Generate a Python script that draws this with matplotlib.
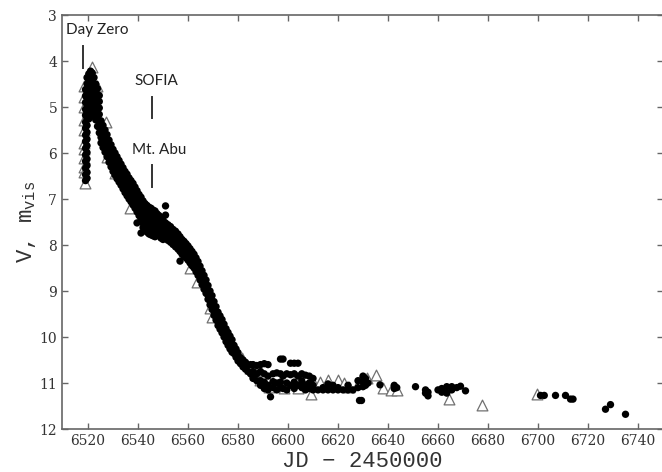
import matplotlib
matplotlib.use("Agg")
import matplotlib.pyplot as plt
import numpy as np

# V-band (filled circles) nightly estimates, JD - 2450000 and magnitudes
rise_jd = [6519.0, 6519.6]
rise_mag = [
    [4.62, 4.76, 4.9, 5.05, 5.18, 5.33, 5.46, 5.61, 5.75, 5.9, 6.04, 6.18, 6.33, 6.47, 6.6],
    [4.36, 4.5, 4.66, 4.8, 4.95, 5.1, 5.24, 5.4, 5.55, 5.7, 5.84, 5.99, 6.13, 6.27, 6.42, 6.55],
]

peak_jd = [6520.3, 6521.0, 6521.7, 6522.4, 6523.1, 6523.8, 6524.5]
peak_mag = [
    [4.28, 4.42, 4.56, 4.7, 4.84, 4.98, 5.12, 5.26],
    [4.22, 4.36, 4.5, 4.64, 4.78, 4.92, 5.06, 5.2],
    [4.26, 4.4, 4.54, 4.68, 4.82, 4.96, 5.1, 5.2],
    [4.36, 4.5, 4.64, 4.78, 4.92, 5.06, 5.18],
    [4.5, 4.64, 4.78, 4.92, 5.04, 5.16, 5.28],
    [4.6, 4.74, 4.88, 5.0, 5.14, 5.28, 5.42],
    [4.75, 4.88, 5.02, 5.16, 5.3, 5.44, 5.56],
]

decline_jd = [6525.2, 6526.0, 6526.8, 6527.6, 6528.4, 6529.2, 6530.0, 6530.8,
              6531.6, 6532.4, 6533.2, 6534.0, 6534.8, 6535.6, 6536.4, 6537.2,
              6538.0, 6538.8, 6539.6, 6540.4, 6541.2, 6542.0, 6542.8, 6543.6,
              6544.4, 6545.2, 6546.0, 6546.8, 6547.6, 6548.4, 6549.2, 6550.0,
              6551.0, 6552.0, 6553.0, 6554.0, 6555.0, 6556.0, 6556.8]
decline_mag = [
    [5.3, 5.42, 5.54, 5.66, 5.78], [5.4, 5.52, 5.64, 5.76, 5.88], [5.5, 5.62, 5.74, 5.86, 5.98],
    [5.6, 5.72, 5.84, 5.96, 6.08], [5.72, 5.84, 5.96, 6.08, 6.2], [5.82, 5.94, 6.06, 6.18, 6.3],
    [5.92, 6.04, 6.16, 6.28, 6.4], [6.0, 6.12, 6.24, 6.36, 6.48], [6.08, 6.2, 6.32, 6.44, 6.56],
    [6.16, 6.28, 6.4, 6.52, 6.63], [6.24, 6.36, 6.48, 6.6, 6.7], [6.32, 6.44, 6.56, 6.68, 6.78],
    [6.4, 6.52, 6.63, 6.74, 6.86], [6.46, 6.58, 6.7, 6.82, 6.93], [6.54, 6.66, 6.78, 6.89, 7.0],
    [6.6, 6.72, 6.84, 6.95, 7.06], [6.66, 6.78, 6.9, 7.02, 7.13], [6.74, 6.86, 6.98, 7.09, 7.2],
    [6.82, 6.94, 7.06, 7.17, 7.28, 7.52], [6.9, 7.02, 7.14, 7.25, 7.36],
    [6.96, 7.08, 7.2, 7.32, 7.44, 7.74], [7.04, 7.16, 7.28, 7.4, 7.52, 7.62],
    [7.1, 7.22, 7.34, 7.46, 7.58, 7.68], [7.14, 7.26, 7.38, 7.5, 7.62, 7.72],
    [7.18, 7.3, 7.42, 7.54, 7.66, 7.76], [7.2, 7.32, 7.44, 7.56, 7.68, 7.78],
    [7.24, 7.36, 7.48, 7.6, 7.72, 7.8], [7.26, 7.38, 7.5, 7.62, 7.74, 7.82],
    [7.32, 7.44, 7.56, 7.68, 7.78], [7.36, 7.48, 7.6, 7.7, 7.8],
    [7.42, 7.54, 7.65, 7.76, 7.85], [7.46, 7.58, 7.69, 7.8, 7.88],
    [7.15, 7.35, 7.52, 7.63, 7.74, 7.85], [7.56, 7.67, 7.78, 7.9],
    [7.6, 7.72, 7.83, 7.94], [7.66, 7.77, 7.88, 7.99], [7.7, 7.82, 7.93, 8.04],
    [7.76, 7.87, 7.98, 8.09], [7.82, 7.93, 8.04, 8.14, 8.35],
]

fade_jd = [6557.6, 6558.4, 6559.2, 6560.0, 6560.8, 6561.6, 6562.4, 6563.2,
           6564.0, 6564.8, 6565.6, 6566.4, 6567.2, 6568.0, 6568.8, 6569.6,
           6570.4, 6571.2, 6572.0, 6572.8, 6573.6, 6574.4, 6575.2, 6576.0,
           6576.8, 6577.6, 6578.4, 6579.2, 6580.0]
fade_mag = [
    [7.88, 7.99, 8.1, 8.2], [7.92, 8.03, 8.14, 8.24], [7.97, 8.08, 8.18, 8.28],
    [8.02, 8.13, 8.23, 8.33], [8.08, 8.19, 8.29, 8.39], [8.14, 8.25, 8.35, 8.45],
    [8.2, 8.31, 8.41, 8.5], [8.28, 8.39, 8.49, 8.58], [8.36, 8.47, 8.57, 8.66],
    [8.46, 8.57, 8.67, 8.76], [8.56, 8.67, 8.77, 8.86], [8.66, 8.77, 8.87, 8.96],
    [8.76, 8.87, 8.97, 9.05], [8.88, 8.99, 9.09, 9.18], [9.0, 9.11, 9.21, 9.3],
    [9.1, 9.21, 9.31, 9.4], [9.23, 9.34, 9.44, 9.53], [9.34, 9.45, 9.55, 9.63],
    [9.46, 9.57, 9.67, 9.75], [9.54, 9.65, 9.75, 9.83], [9.62, 9.73, 9.83, 9.91],
    [9.72, 9.83, 9.92, 10.0], [9.82, 9.92, 10.02, 10.1], [9.9, 10.0, 10.1, 10.18],
    [9.98, 10.08, 10.18, 10.26], [10.06, 10.16, 10.26, 10.33], [10.18, 10.28, 10.36],
    [10.26, 10.36, 10.44], [10.34, 10.44, 10.52],
]

tail_jd = [6581.0, 6582.0, 6583.0, 6584.0, 6585.0, 6586.0, 6587.5, 6589.0,
           6590.5, 6592.0, 6593.0, 6594.0, 6595.5, 6597.0, 6598.0, 6599.5,
           6601.0, 6602.5, 6604.0, 6605.5, 6607.0, 6608.5, 6610.0, 6612.0,
           6614.0, 6616.0, 6618.0, 6620.0, 6622.0, 6624.0, 6626.0, 6628.0,
           6628.6, 6629.4, 6630.0, 6631.0, 6632.0, 6636.8, 6642.5, 6643.5,
           6651.0, 6655.0, 6656.0, 6660.0, 6661.5, 6663.5, 6665.5, 6667.5,
           6669.0, 6671.0, 6701.0, 6702.5, 6707.0, 6711.0, 6713.0, 6714.0,
           6727.0, 6729.0, 6735.0]
tail_mag = [
    [10.45, 10.58], [10.5, 10.65], [10.55, 10.7], [10.62, 10.75], [10.6, 10.8],
    [10.6, 10.75, 10.9], [10.62, 10.8, 10.95], [10.6, 10.75, 10.95, 11.05],
    [10.58, 10.8, 10.98, 11.12], [10.6, 10.85, 11.05, 11.15], [11.3],
    [10.8, 10.97, 11.1], [10.78, 11.0, 11.15], [10.48, 10.8, 10.98, 11.1],
    [10.48, 10.85, 11.12], [10.8, 11.0, 11.15], [10.57, 10.82, 11.05],
    [10.57, 10.8, 10.98, 11.12], [10.57, 10.85, 11.05], [10.8, 10.95, 11.1],
    [10.83, 11.04, 11.15], [10.85, 11.0, 11.12], [10.9, 11.05, 11.15], [11.15],
    [11.1, 11.15], [11.02, 11.15], [11.05, 11.15], [11.1, 11.15], [11.15],
    [11.05, 11.15], [11.15], [10.95, 11.1], [11.38], [11.38],
    [10.85, 10.98, 11.08], [10.9, 11.05], [11.0], [11.04], [11.05, 11.12], [11.1],
    [11.08], [11.15, 11.22], [11.2, 11.28], [11.15], [11.12, 11.2], [11.08, 11.22],
    [11.08, 11.15], [11.1], [11.07], [11.17], [11.27], [11.27], [11.27], [11.27],
    [11.35], [11.35], [11.57], [11.47], [11.68],
]

# visual estimates (open triangles)
vis_jd = [6518.4, 6518.4, 6518.4, 6518.4, 6518.4, 6518.4, 6518.4, 6518.4,
          6518.4, 6518.4, 6518.6, 6521.5, 6523.6, 6527.0, 6527.6, 6530.8,
          6536.8, 6560.8, 6563.6, 6568.8, 6569.6, 6577.6, 6581.6, 6584.8,
          6586.0, 6586.8, 6588.8, 6592.4, 6598.4, 6604.0, 6609.2, 6609.6,
          6612.8, 6616.0, 6620.0, 6622.4, 6624.4, 6628.4, 6631.6, 6635.0,
          6638.0, 6641.0, 6643.6, 6664.4, 6677.5, 6699.5]
vis_mag = [4.55, 4.78, 5.0, 5.28, 5.5, 5.78, 5.92, 6.1, 6.3, 6.42, 6.65, 4.12,
           4.54, 5.33, 6.08, 6.43, 7.2, 8.5, 8.8, 9.37, 9.56, 10.13, 10.46, 10.67,
           10.7, 10.76, 10.93, 11.08, 11.1, 11.1, 11.24, 10.93, 10.97, 10.93, 10.93,
           11.0, 11.08, 10.97, 10.9, 10.83, 11.1, 11.15, 11.15, 11.35, 11.48, 11.24]

# observing epochs marked above the light curve
event_labels = ["Day Zero", "SOFIA", "Mt. Abu"]
event_jd = [6518.0, 6545.7, 6545.7]
event_text_pos = [(6523.6, 3.33), (6547.4, 4.43), (6548.3, 5.93)]
event_bar = [(3.67, 4.15), (4.78, 5.24), (6.26, 6.74)]


def flatten(jds, mags):
    x, y = [], []
    for j, ms in zip(jds, mags):
        for m in ms:
            x.append(j)
            y.append(m)
    return x, y


v_x, v_y = [], []
for jds, mags in [(rise_jd, rise_mag), (peak_jd, peak_mag), (decline_jd, decline_mag),
                  (fade_jd, fade_mag), (tail_jd, tail_mag)]:
    a, b = flatten(jds, mags)
    v_x += a
    v_y += b

plt.rcParams['mathtext.fontset'] = 'custom'
plt.rcParams['mathtext.rm'] = 'Liberation Mono'

fig = plt.figure(figsize=(6.62, 4.72), dpi=100)
ax = fig.add_axes([0.0937, 0.0911, 1.0015 - 0.0937, 0.9682 - 0.0911])

# triangles go underneath so the circle band stays solid
ax.scatter(vis_jd, vis_mag, s=60, marker='^', facecolors='white',
           edgecolors='#707070', linewidths=0.9, zorder=2)
ax.scatter(v_x, v_y, s=28, c='black', edgecolors='none', zorder=3)

for lab, jd, (tx, ty), (b0, b1) in zip(event_labels, event_jd, event_text_pos, event_bar):
    ax.text(tx, ty, lab, ha='center', va='center', fontsize=11,
            family='Lato', color='#222222')
    ax.plot([jd, jd], [b0, b1], color='#333333', lw=1.4)

ax.set_xlim(6509.6, 6750.0)
ax.set_ylim(12, 3)
ax.set_xticks(np.arange(6520, 6741, 20))
ax.set_yticks(np.arange(3, 13, 1))

for s in ax.spines.values():
    s.set_color('#666666')
    s.set_linewidth(1.2)
ax.tick_params(direction='in', length=4, width=1, color='#666666',
               top=True, right=True, labelsize=10, labelcolor='#333333')
for t in ax.get_xticklabels() + ax.get_yticklabels():
    t.set_family('DejaVu Serif')

ax.set_xlabel('JD \u2212 2450000', family='Liberation Mono', fontsize=16,
              color='#333333', labelpad=2)
ax.set_ylabel(r'V, m$_{\rm vis}$', family='Liberation Mono', fontsize=16,
              color='#333333', labelpad=1)

fig.savefig('out.png', dpi=100)
